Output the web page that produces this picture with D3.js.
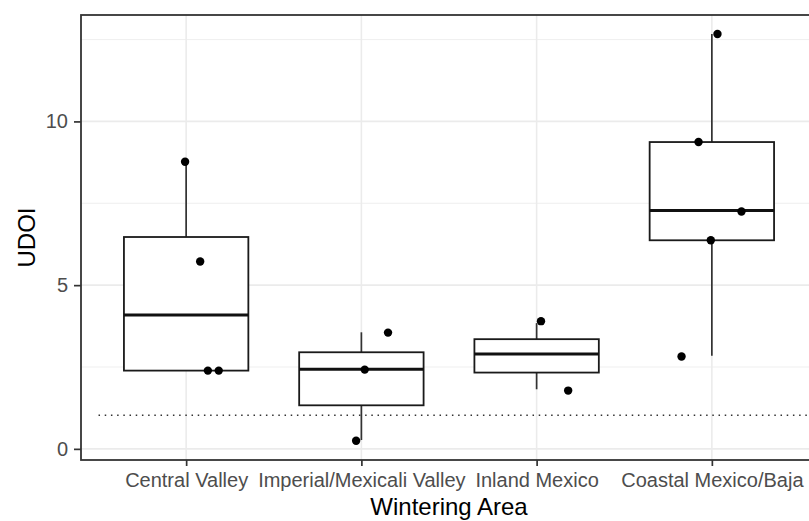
<!DOCTYPE html>
<html>
<head>
<meta charset="utf-8">
<script src="https://cdn.jsdelivr.net/npm/d3@7"></script>
<style>
  html, body { margin: 0; padding: 0; background: #fff; overflow: hidden; }
  svg { display: block; font-family: "Liberation Sans", Arial, sans-serif; }
</style>
</head>
<body>
<svg id="chart" width="809" height="521"></svg>
<script>
// ---- data ----
const categories = ["Central Valley", "Imperial/Mexicali Valley", "Inland Mexico", "Coastal Mexico/Baja"];
const q1          = [2.39, 1.33, 2.33, 6.37];
const medians     = [4.09, 2.43, 2.90, 7.28];
const q3          = [6.47, 2.95, 3.35, 9.37];
const whiskerLow  = [2.39, 0.27, 1.82, 2.84];
const whiskerHigh = [8.77, 3.56, 3.84, 12.67];

const pointCat    = [0, 0, 0, 0, 1, 1, 1, 2, 2, 3, 3, 3, 3, 3];
const pointVal    = [8.77, 5.72, 2.39, 2.39, 3.55, 2.42, 0.25, 3.90, 1.78, 12.67, 9.37, 7.25, 6.37, 2.82];
const pointJitter = [-0.006, 0.08, 0.124, 0.186, 0.152, 0.019, -0.03, 0.025, 0.18, 0.032, -0.076, 0.169, -0.006, -0.173];

const yTicks = [0, 5, 10];
const yMinor = [2.5, 7.5, 12.5];
const refLine = 1.03;
const xTitle = "Wintering Area";
const yTitle = "UDOI";

// ---- layout ----
const panel = { left: 81, top: 15, right: 817, bottom: 460 };
const svg = d3.select("#chart");

const x = d3.scaleLinear().domain([0.4, categories.length + 0.6]).range([panel.left, panel.right]);
const xc = i => x(i + 1);
const y = d3.scaleLinear().domain([-0.34, 13.25]).range([panel.bottom, panel.top]);
const boxW = 0.71;

// grid
const grid = svg.append("g");
grid.selectAll("line.minor").data(yMinor).join("line")
  .attr("class", "minor")
  .attr("x1", panel.left).attr("x2", panel.right)
  .attr("y1", d => y(d)).attr("y2", d => y(d))
  .attr("stroke", "#EBEBEB").attr("stroke-width", 0.8);
grid.selectAll("line.major").data(yTicks).join("line")
  .attr("class", "major")
  .attr("x1", panel.left).attr("x2", panel.right)
  .attr("y1", d => y(d)).attr("y2", d => y(d))
  .attr("stroke", "#EBEBEB").attr("stroke-width", 1.6);
grid.selectAll("line.vmajor").data(categories).join("line")
  .attr("class", "vmajor")
  .attr("x1", (d, i) => xc(i)).attr("x2", (d, i) => xc(i))
  .attr("y1", panel.top).attr("y2", panel.bottom)
  .attr("stroke", "#EBEBEB").attr("stroke-width", 1.6);

// reference dotted line
svg.append("line")
  .attr("x1", x(0.5)).attr("x2", panel.right)
  .attr("y1", y(refLine)).attr("y2", y(refLine))
  .attr("stroke", "#333").attr("stroke-width", 1.5)
  .attr("stroke-dasharray", "1.5,4.7");

// boxplots
const boxes = svg.append("g");
categories.forEach((c, i) => {
  const cx = xc(i);
  const half = (x(boxW) - x(0)) / 2;
  boxes.append("line").attr("x1", cx).attr("x2", cx)
    .attr("y1", y(q3[i])).attr("y2", y(whiskerHigh[i]))
    .attr("stroke", "#333").attr("stroke-width", 1.7);
  boxes.append("line").attr("x1", cx).attr("x2", cx)
    .attr("y1", y(q1[i])).attr("y2", y(whiskerLow[i]))
    .attr("stroke", "#333").attr("stroke-width", 1.7);
  boxes.append("rect")
    .attr("x", cx - half).attr("width", 2 * half)
    .attr("y", y(q3[i])).attr("height", y(q1[i]) - y(q3[i]))
    .attr("fill", "#fff").attr("stroke", "#1a1a1a").attr("stroke-width", 1.8);
  boxes.append("line").attr("x1", cx - half).attr("x2", cx + half)
    .attr("y1", y(medians[i])).attr("y2", y(medians[i]))
    .attr("stroke", "#111").attr("stroke-width", 3);
});

// points
svg.append("g").selectAll("circle").data(pointVal).join("circle")
  .attr("cx", (d, i) => xc(pointCat[i]) + (x(pointJitter[i]) - x(0)))
  .attr("cy", d => y(d))
  .attr("r", 4.2)
  .attr("fill", "#000");

// panel border
svg.append("rect")
  .attr("x", panel.left).attr("y", panel.top)
  .attr("width", panel.right - panel.left).attr("height", panel.bottom - panel.top)
  .attr("fill", "none").attr("stroke", "#333").attr("stroke-width", 1.8);

// y axis
const yAxis = svg.append("g").attr("transform", `translate(${panel.left},0)`)
  .call(d3.axisLeft(y).tickValues(yTicks).tickFormat(d3.format("d")).tickSize(7).tickPadding(6));
yAxis.select(".domain").remove();
yAxis.selectAll(".tick line").attr("stroke", "#333").attr("stroke-width", 1.7);
yAxis.selectAll(".tick text").attr("fill", "#4D4D4D").style("font-size", "20px")
  .style("font-family", "'Liberation Sans', Arial, sans-serif");

// x axis
const xAxis = svg.append("g").attr("transform", `translate(0,${panel.bottom})`)
  .call(d3.axisBottom(x).tickValues(categories.map((c, i) => i + 1))
    .tickFormat((d, i) => categories[i]).tickSize(6).tickPadding(7));
xAxis.select(".domain").remove();
xAxis.selectAll(".tick line").attr("stroke", "#333").attr("stroke-width", 1.7);
xAxis.selectAll(".tick text").attr("fill", "#4D4D4D").style("font-size", "20px")
  .style("font-family", "'Liberation Sans', Arial, sans-serif");

// titles
svg.append("text")
  .attr("x", (panel.left + panel.right) / 2).attr("y", 515)
  .attr("text-anchor", "middle").attr("fill", "#000")
  .style("font-size", "24px").text(xTitle);
svg.append("text")
  .attr("transform", `translate(35,${(panel.top + panel.bottom) / 2}) rotate(-90)`)
  .attr("text-anchor", "middle").attr("fill", "#000")
  .style("font-size", "24px").text(yTitle);
</script>
</body>
</html>
